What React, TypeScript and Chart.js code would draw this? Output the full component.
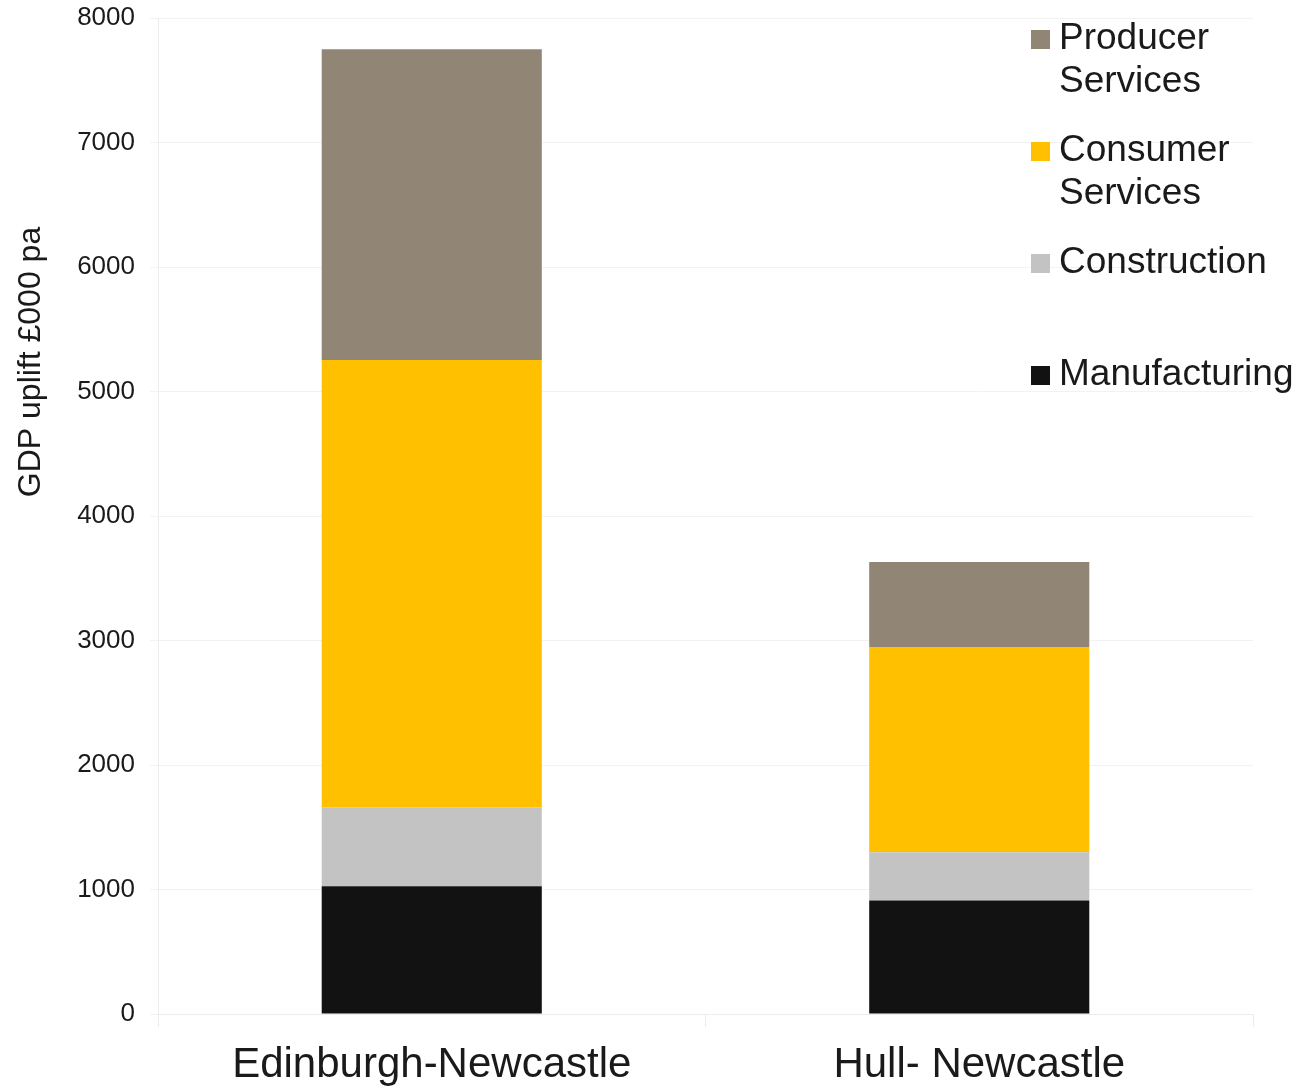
import React, { useEffect, useRef } from "react";
import { Chart, registerables } from "chart.js";

Chart.register(...registerables);

const categories = ["Edinburgh-Newcastle", "Hull- Newcastle"];
const manufacturing = [1027, 911];
const construction = [632, 389];
const consumerServices = [3594, 1648];
const producerServices = [2495, 683];
const yTicks = [0, 1000, 2000, 3000, 4000, 5000, 6000, 7000, 8000];

const legendItems = [
  { lines: ["Producer", "Services"], color: "#918676" },
  { lines: ["Consumer", "Services"], color: "#FFC000" },
  { lines: ["Construction"], color: "#C3C3C3" },
  { lines: ["Manufacturing"], color: "#121212" },
];

const FONT = "'Liberation Sans', Arial, sans-serif";
const TEXT = "#1a1a1a";

const overlayPlugin = {
  id: "overlay",
  afterDraw(chart: any) {
    const ctx = chart.ctx;
    ctx.save();
    // y title
    ctx.translate(31, 362);
    ctx.rotate(-Math.PI / 2);
    ctx.font = `32px ${FONT}`;
    ctx.fillStyle = TEXT;
    ctx.textAlign = "center";
    ctx.textBaseline = "middle";
    ctx.fillText("GDP uplift £000 pa", 0, 0);
    ctx.restore();

    // legend
    ctx.save();
    ctx.font = `37px ${FONT}`;
    ctx.textAlign = "left";
    ctx.textBaseline = "middle";
    legendItems.forEach((item, i) => {
      const cy = 39 + i * 112;
      ctx.fillStyle = item.color;
      ctx.fillRect(1031, cy - 9, 19, 19);
      ctx.fillStyle = TEXT;
      item.lines.forEach((ln, j) => {
        ctx.fillText(ln, 1059, cy + j * 43);
      });
    });
    ctx.restore();
  },
};

export default function App() {
  const ref = useRef<HTMLCanvasElement>(null);
  useEffect(() => {
    const chart = new Chart(ref.current as HTMLCanvasElement, {
      type: "bar",
      data: {
        labels: categories,
        datasets: [
          { label: "Manufacturing", data: manufacturing, backgroundColor: "#121212" },
          { label: "Construction", data: construction, backgroundColor: "#C3C3C3" },
          { label: "Consumer Services", data: consumerServices, backgroundColor: "#FFC000" },
          { label: "Producer Services", data: producerServices, backgroundColor: "#918676" },
        ],
      },
      options: {
        animation: false,
        responsive: false,
        devicePixelRatio: 1,
        layout: { padding: { left: 0, top: 18, right: 43, bottom: 0 } },
        datasets: { bar: { barPercentage: 0.402, categoryPercentage: 1 } },
        plugins: { legend: { display: false }, tooltip: { enabled: false } },
        scales: {
          x: {
            stacked: true,
            offset: true,
            grid: {
              offset: true,
              drawOnChartArea: false,
              tickLength: 13,
              color: "#ececec",
            },
            border: { color: "#ececec" },
            ticks: {
              color: TEXT,
              font: { family: FONT, size: 42 },
              padding: 13,
            },
            afterFit(scale: any) {
              scale.height = 73;
              scale.paddingLeft = 0;
              scale.paddingRight = 0;
            },
          },
          y: {
            stacked: true,
            min: 0,
            max: 8000,
            afterBuildTicks(scale: any) {
              scale.ticks = yTicks.map((v) => ({ value: v }));
            },
            grid: { color: "#f2f2f2", tickLength: 8 },
            border: { color: "#ececec" },
            ticks: {
              color: TEXT,
              font: { family: FONT, size: 26 },
              padding: 15,
              callback: (v: any) => String(v),
            },
            afterFit(scale: any) {
              scale.width = 158;
              scale.paddingTop = 0;
              scale.paddingBottom = 0;
            },
          },
        },
      },
      plugins: [overlayPlugin],
    });
    return () => chart.destroy();
  }, []);
  return (
    <div style={{ position: "fixed", left: 0, top: 0, width: 1296, height: 1087, background: "#fff" }}>
      <canvas ref={ref} width={1296} height={1087} style={{ width: 1296, height: 1087 }} />
    </div>
  );
}
